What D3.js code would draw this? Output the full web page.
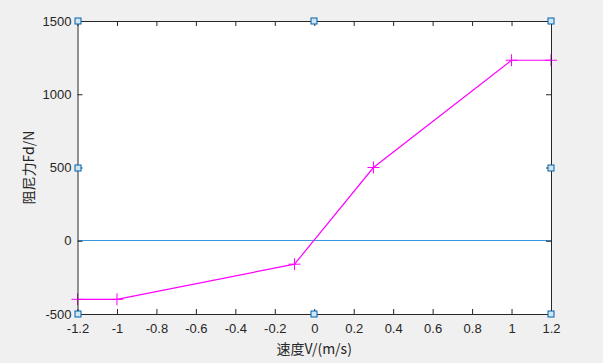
<!DOCTYPE html>
<html>
<head>
<meta charset="utf-8">
<script src="https://cdn.jsdelivr.net/npm/d3@7"></script>
<style>
  html, body { margin: 0; padding: 0; background: #f0f0f0; }
  svg { display: block; }
</style>
</head>
<body>
<div id="chart"></div>
<script>
const velocity = [-1.2, -1, -0.1, 0.3, 1, 1.2];
const dampingForce = [-400, -400, -160, 500, 1232, 1232];
const zeroLineX = [-1.2, 1.2];
const zeroLineY = [0, 0];
const xTicks = [-1.2, -1, -0.8, -0.6, -0.4, -0.2, 0, 0.2, 0.4, 0.6, 0.8, 1, 1.2];
const yTicks = [-500, 0, 500, 1000, 1500];
const xLabel = '速度V/(m/s)';
const yLabel = '阻尼力Fd/N';

const WIDTH = 603;
const HEIGHT = 363;
const margin = { top: 21, right: 52, bottom: 49, left: 77.5 };
const TICK_LEN = 5;
const AXIS_COLOR = '#262626';
const FONT = 'Arial, "Liberation Sans", sans-serif';

const svg = d3.select('#chart').append('svg')
  .attr('width', WIDTH)
  .attr('height', HEIGHT);

const x = d3.scaleLinear().domain([-1.2, 1.2]).range([margin.left, WIDTH - margin.right]);
const y = d3.scaleLinear().domain([-500, 1500]).range([HEIGHT - margin.bottom, margin.top]);

// plot area
svg.append('rect')
  .attr('x', x.range()[0])
  .attr('y', y.range()[1])
  .attr('width', x.range()[1] - x.range()[0])
  .attr('height', y.range()[0] - y.range()[1])
  .attr('fill', '#fff');

// zero line
const line = d3.line().x((d) => x(d[0])).y((d) => y(d[1]));
svg.append('path')
  .datum(d3.zip(zeroLineX, zeroLineY))
  .attr('d', line)
  .attr('fill', 'none')
  .attr('stroke', '#3a96dd')
  .attr('stroke-width', 1)
  .attr('shape-rendering', 'crispEdges');

// damping curve
svg.append('path')
  .datum(d3.zip(velocity, dampingForce))
  .attr('d', line)
  .attr('fill', 'none')
  .attr('stroke', '#ff00ff')
  .attr('stroke-width', 1.2);

svg.append('g').selectAll('path')
  .data(d3.zip(velocity, dampingForce))
  .join('path')
  .attr('d', (d) => `M${x(d[0]) - 6},${y(d[1])}h12M${x(d[0])},${y(d[1]) - 6}v12`)
  .attr('stroke', '#ff00ff')
  .attr('stroke-width', 1);

// axes: bottom/left with labels, top/right ticks only (box on, ticks inward)
function styleAxis(g) {
  g.select('.domain').attr('stroke', AXIS_COLOR);
  g.selectAll('.tick line').attr('stroke', AXIS_COLOR);
  g.selectAll('.tick text')
    .attr('fill', AXIS_COLOR)
    .attr('font-family', FONT)
    .attr('font-size', 13);
}

const fmt = (d) => String(d);

svg.append('g')
  .attr('transform', `translate(0,${y.range()[0]})`)
  .call(d3.axisBottom(x).tickValues(xTicks).tickFormat(fmt).tickSizeInner(-TICK_LEN).tickSizeOuter(0).tickPadding(10))
  .call(styleAxis);

svg.append('g')
  .attr('transform', `translate(0,${y.range()[1]})`)
  .call(d3.axisTop(x).tickValues(xTicks).tickFormat('').tickSizeInner(-TICK_LEN).tickSizeOuter(0))
  .call(styleAxis);

svg.append('g')
  .attr('transform', `translate(${x.range()[0]},0)`)
  .call(d3.axisLeft(y).tickValues(yTicks).tickFormat(fmt).tickSizeInner(-TICK_LEN).tickSizeOuter(0).tickPadding(6))
  .call(styleAxis);

svg.append('g')
  .attr('transform', `translate(${x.range()[1]},0)`)
  .call(d3.axisRight(y).tickValues(yTicks).tickFormat('').tickSizeInner(-TICK_LEN).tickSizeOuter(0))
  .call(styleAxis);

// selection handles at axes corners and edge midpoints
const hx = [x.domain()[0], d3.mean(x.domain()), x.domain()[1]];
const hy = [y.domain()[0], d3.mean(y.domain()), y.domain()[1]];
const handles = d3.cross(hx, hy).filter((d) => !(d[0] === hx[1] && d[1] === hy[1]));
svg.append('g').selectAll('rect')
  .data(handles)
  .join('rect')
  .attr('x', (d) => Math.round(x(d[0])) - 3)
  .attr('y', (d) => Math.round(y(d[1])) - 3)
  .attr('width', 6)
  .attr('height', 6)
  .attr('fill', '#cfe6f7')
  .attr('stroke', '#0060a8')
  .attr('stroke-width', 1);

// axis titles
svg.append('text')
  .attr('x', d3.mean(x.range()))
  .attr('y', 354)
  .attr('text-anchor', 'middle')
  .attr('font-family', '"Noto Sans CJK SC", ' + FONT)
  .attr('font-size', 14)
  .attr('fill', AXIS_COLOR)
  .text(xLabel);

svg.append('text')
  .attr('transform', `translate(34,${d3.mean(y.range())}) rotate(-90)`)
  .attr('text-anchor', 'middle')
  .attr('font-family', '"Noto Sans CJK SC", ' + FONT)
  .attr('font-size', 14)
  .attr('fill', AXIS_COLOR)
  .text(yLabel);
</script>
</body>
</html>
